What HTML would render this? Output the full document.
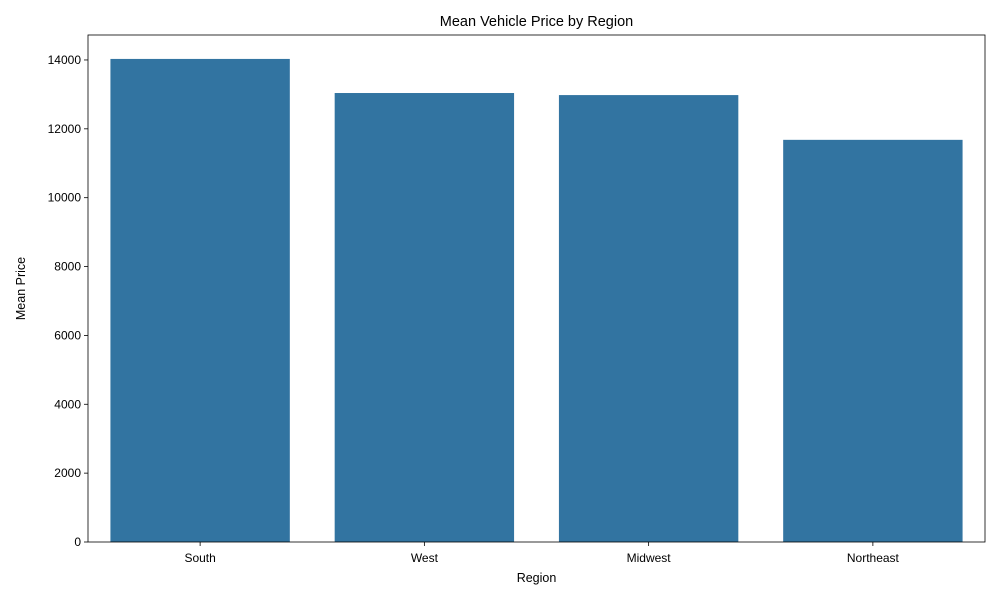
<!DOCTYPE html>
<html><head><meta charset="utf-8"><style>
body{margin:0;background:#fff;}
svg text{font-family:"Liberation Sans","DejaVu Sans",sans-serif;fill:#000;}
</style></head><body>
<svg id="chart" width="1000" height="600"></svg>
<script>
const categories = ["South","West","Midwest","Northeast"];
const meanPrices = [14030, 13040, 12980, 11680];
const yTicks = [0,2000,4000,6000,8000,10000,12000,14000];
const yMax = 14725;

const svg = document.getElementById('chart');
const NS = 'http://www.w3.org/2000/svg';
const L=88,R=985,T=35,B=542;
const band=(R-L)/categories.length;
const x=i=>L+band*(i+0.5);
const y=v=>B-(v/yMax)*(B-T);
function mk(tag,attrs,txt){const e=document.createElementNS(NS,tag);for(const k in attrs)e.setAttribute(k,attrs[k]);if(txt!==undefined)e.textContent=txt;svg.appendChild(e);return e;}

categories.forEach((c,i)=>{
  const w=band*0.8;
  const r=mk('rect',{x:x(i)-w/2,y:y(meanPrices[i]),width:w,height:B-y(meanPrices[i]),fill:'#3274a1'});
  
  
  mk('line',{x1:x(i),x2:x(i),y1:B,y2:B+4,stroke:'#000','stroke-width':0.8});
  const t=mk('text',{x:x(i),y:B+20,'text-anchor':'middle','font-size':12},c);
  
  
});
yTicks.forEach(v=>{
  mk('line',{x1:L-4,x2:L,y1:y(v),y2:y(v),stroke:'#000','stroke-width':0.8});
  const t=mk('text',{x:L-7,y:y(v)+4,'text-anchor':'end','font-size':12},v);
  
  
});
const frame=mk('rect',{x:L,y:T,width:R-L,height:B-T,fill:'none',stroke:'#000','stroke-width':0.8});


const title=mk('text',{x:(L+R)/2,y:T-9,'text-anchor':'middle','font-size':14.5},'Mean Vehicle Price by Region');


const xt=mk('text',{x:(L+R)/2,y:582,'text-anchor':'middle','font-size':12.5},'Region');


const yt=mk('text',{x:0,y:0,'text-anchor':'middle','font-size':12.5,transform:'translate(25,'+((T+B)/2)+') rotate(-90)'},'Mean Price');


</script>
</body></html>
